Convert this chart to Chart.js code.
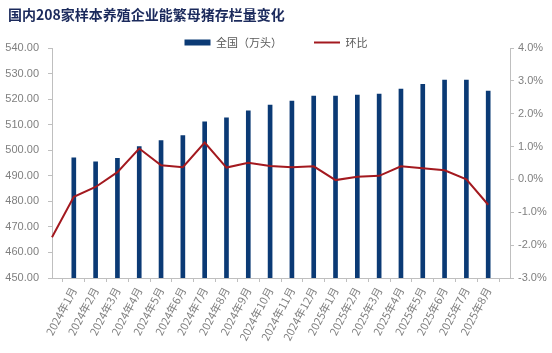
<!DOCTYPE html>
<html lang="zh">
<head>
<meta charset="UTF-8">
<title>能繁母猪存栏量变化</title>
<script src="https://cdn.jsdelivr.net/npm/chart.js@4.4.1/dist/chart.umd.min.js"></script>
<style>
  body {
    margin: 0;
    background: #fff;
  }
  .wrap {
    position: relative;
    width: 552px;
    height: 353px;
  }
  .title {
    position: absolute;
    left: 8px;
    top: 4px;
    font-family: "Noto Sans CJK SC", sans-serif;
    font-weight: bold;
    font-size: 14px;
    color: #1b2a5c;
  }
</style>
</head>
<body>

<div class="wrap">
  <div class="title">国内208家样本养殖企业能繁母猪存栏量变化</div>
  <canvas id="chartSow" width="552" height="353"></canvas>
</div>

<script>
  // 月份
  const months = ['2024年1月', '2024年2月', '2024年3月', '2024年4月', '2024年5月', '2024年6月',
    '2024年7月', '2024年8月', '2024年9月', '2024年10月', '2024年11月', '2024年12月',
    '2025年1月', '2025年2月', '2025年3月', '2025年4月', '2025年5月', '2025年6月',
    '2025年7月', '2025年8月'];

  // 全国存栏（万头）
  const stock = [497.0, 495.5, 496.8, 501.4, 503.8, 505.7, 511.1, 512.7, 515.4, 517.7,
    519.2, 521.2, 521.2, 521.6, 522.0, 523.9, 525.8, 527.4, 527.4, 523.1];

  // 环比（%），第一个值是2023年12月，画在坐标轴起点
  const mom = [-1.76, -0.53, -0.23, 0.22, 0.94, 0.43, 0.37, 1.12, 0.36, 0.51, 0.41,
    0.37, 0.40, -0.02, 0.08, 0.11, 0.40, 0.34, 0.28, 0.00, -0.77];

  const gray = '#7f7f7f';
  const axisColor = '#bfbfbf';

  // x轴前后各留一个空位置
  const labels = [''].concat(months, ['']);

  // 缩小图例高度
  const legendFit = {
    id: 'legendFit',
    beforeInit(chart) {
      const fit = chart.legend.fit;
      chart.legend.fit = function () {
        fit.bind(chart.legend)();
        this.height -= 10;
      };
    }
  };

  new Chart('chartSow', {
    type: 'bar',
    data: {
      labels: labels,
      datasets: [{
        type: 'line',
        label: '环比',
        data: mom.concat([null]),
        yAxisID: 'y1',
        borderColor: '#a3191f',
        backgroundColor: '#a3191f',
        borderWidth: 2,
        pointRadius: 0,
        pointStyle: 'line',
        tension: 0
      }, {
        label: '全国（万头）',
        data: [null].concat(stock, [null]),
        yAxisID: 'y',
        backgroundColor: '#0b3a75',
        borderWidth: 0,
        barThickness: 4,
        pointStyle: 'rect'
      }]
    },
    options: {
      responsive: false,
      animation: false,
      layout: { padding: { top: 5 } },
      plugins: {
        tooltip: { enabled: false },
        legend: {
          labels: {
            usePointStyle: true,
            pointStyleWidth: 26,
            boxHeight: 6,
            padding: 32,
            color: '#595959',
            font: { family: '"Noto Sans CJK SC", sans-serif', size: 11 },
            sort: (a, b) => b.datasetIndex - a.datasetIndex
          }
        }
      },
      scales: {
        x: {
          offset: false,
          grid: { drawOnChartArea: false, tickLength: 4, color: axisColor },
          border: { color: axisColor },
          ticks: {
            autoSkip: false,
            minRotation: 62,
            maxRotation: 62,
            padding: 3,
            color: gray,
            font: { family: '"Noto Sans CJK SC", sans-serif', size: 11 }
          },
          afterFit: axis => { axis.height = 75; }
        },
        y: {
          position: 'left',
          min: 450,
          max: 540,
          grid: { drawOnChartArea: false, tickLength: 4, color: axisColor },
          border: { color: axisColor },
          ticks: {
            stepSize: 10,
            padding: 9,
            color: gray,
            font: { family: '"Liberation Sans", sans-serif', size: 11 },
            callback: v => v.toFixed(2)
          },
          afterFit: axis => { axis.width = 52; }
        },
        y1: {
          position: 'right',
          min: -3,
          max: 4,
          grid: { drawOnChartArea: false, tickLength: 4, color: axisColor },
          border: { color: axisColor },
          ticks: {
            stepSize: 1,
            padding: 4,
            color: gray,
            font: { family: '"Liberation Sans", sans-serif', size: 11 },
            callback: v => v.toFixed(1) + '%'
          },
          afterFit: axis => { axis.width = 42; }
        }
      }
    },
    plugins: [legendFit]
  });
</script>

</body>
</html>
